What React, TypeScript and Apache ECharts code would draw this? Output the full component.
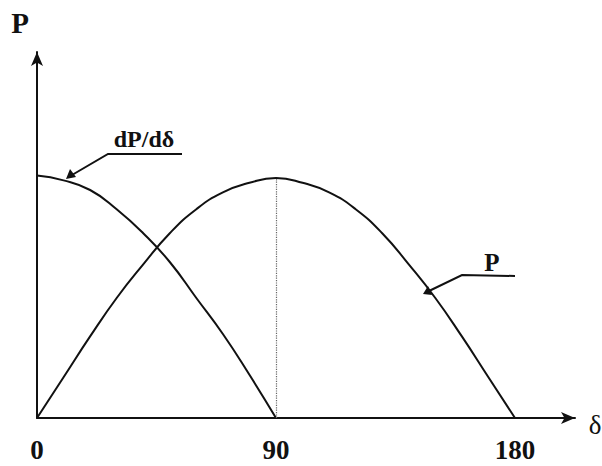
import React, { useEffect, useRef } from "react";
import * as echarts from "echarts";

const angles = [0, 10, 20, 30, 40, 50, 60, 70, 80, 90, 100, 110, 120, 130, 140, 150, 160, 170, 180];
const powerP = [0, 0.17, 0.34, 0.5, 0.64, 0.77, 0.87, 0.94, 0.98, 1.0, 0.98, 0.94, 0.87, 0.77, 0.64, 0.5, 0.34, 0.17, 0];
const anglesD = [0, 10, 20, 30, 40, 50, 60, 70, 80, 90];
const derivP = [1.01, 0.99, 0.95, 0.87, 0.77, 0.65, 0.5, 0.35, 0.18, 0];
const tickLabels = ["0", "90", "180"];

const FONT = "Liberation Serif";

export default function App() {
  const ref = useRef<HTMLDivElement>(null);
  useEffect(() => {
    const chart = echarts.init(ref.current!, null, { renderer: "svg" });
    const lineStyle = { color: "#111", width: 2 };
    const txt = (text: string, x: number, y: number, size: number, weight: string) => ({
      type: "text",
      x,
      y,
      style: { text, fontFamily: FONT, fontSize: size, fontWeight: weight, fill: "#111", textAlign: "center", textVerticalAlign: "middle" },
    });
    chart.setOption({
      animation: false,
      backgroundColor: "#fff",
      grid: { left: 37, right: 27, top: 52, bottom: 48 },
      xAxis: {
        type: "value",
        min: 0,
        max: 202.6,
        interval: 90,
        axisLine: { show: true, symbol: ["none", "arrow"], symbolSize: [9, 14], lineStyle: { color: "#111", width: 2 } },
        axisTick: { show: false },
        splitLine: { show: false },
        axisLabel: {
          show: true,
          margin: 18,
          color: "#111",
          fontFamily: FONT,
          fontWeight: "bold",
          fontSize: 27,
          showMaxLabel: false,
          formatter: (v: number) => (tickLabels.includes(String(v)) ? String(v) : ""),
        },
      },
      yAxis: {
        type: "value",
        min: 0,
        max: 1.525,
        axisLine: { show: true, symbol: ["none", "arrow"], symbolSize: [9, 14], lineStyle: { color: "#111", width: 2 } },
        axisTick: { show: false },
        splitLine: { show: false },
        axisLabel: { show: false },
      },
      series: [
        {
          name: "P",
          type: "line",
          smooth: true,
          symbol: "none",
          lineStyle,
          data: angles.map((a, i) => [a, powerP[i]]),
          markLine: {
            silent: true,
            symbol: "none",
            label: { show: false },
            lineStyle: { color: "#666", type: "dotted", width: 1.2 },
            data: [[{ coord: [90, 0] }, { coord: [90, 1.0] }]],
          },
        },
        {
          name: "dP/dδ",
          type: "line",
          smooth: true,
          symbol: "none",
          lineStyle,
          data: anglesD.map((a, i) => [a, derivP[i]]),
        },
      ],
      graphic: [
        txt("P", 20, 23, 29, "bold"),
        txt("δ", 595, 425, 27, "normal"),
        txt("dP/dδ", 144, 139, 24, "bold"),
        { type: "polyline", shape: { points: [[182, 154], [108, 154], [72, 175]] }, style: { stroke: "#111", lineWidth: 2, fill: null } },
        { type: "polygon", shape: { points: [[66, 179], [70, 169], [76, 177]] }, style: { fill: "#111" } },
        txt("P", 492, 262, 25, "bold"),
        { type: "polyline", shape: { points: [[515, 276], [462, 275], [429, 291]] }, style: { stroke: "#111", lineWidth: 2, fill: null } },
        { type: "polygon", shape: { points: [[423, 294], [428, 286], [432, 295]] }, style: { fill: "#111" } },
      ],
    });
    return () => chart.dispose();
  }, []);
  return <div ref={ref} style={{ width: 602, height: 466, position: "absolute", left: 0, top: 0 }} />;
}
